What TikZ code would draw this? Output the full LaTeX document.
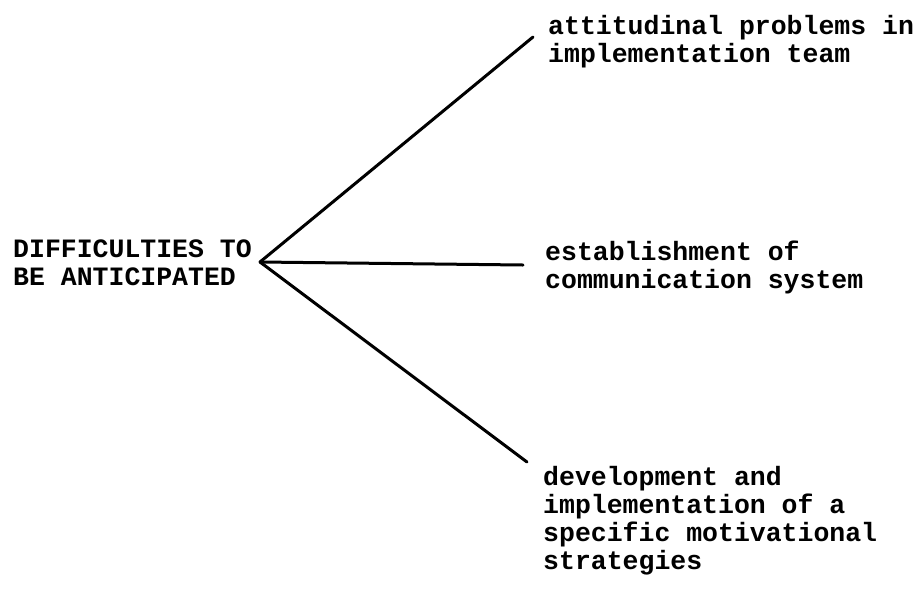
\documentclass[tikz,border=0pt]{standalone}
\usepackage{fontspec}
\setmonofont{Liberation Mono}
\tikzset{
  lbl/.style={font=\ttfamily\bfseries\fontsize{26.5}{27.8}\selectfont, align=left, inner sep=0pt, anchor=base west},
  branch/.style={line width=3pt, line cap=round}
}
\begin{document}
\begin{tikzpicture}[x=1pt,y=-1pt]
\useasboundingbox (0,0) rectangle (923,595);
\node[lbl] (root) at (13,285) {DIFFICULTIES TO\\BE ANTICIPATED};
\node[lbl] (t1) at (548,62) {attitudinal problems in\\implementation team};
\node[lbl] (t2) at (545,288) {establishment of\\communication system};
\node[lbl] (t3) at (543,569) {development and\\implementation of a\\specific motivational\\strategies};
\coordinate (b) at (260,262);
\coordinate (e1) at (533,37);
\coordinate (e2) at (523,265);
\coordinate (e3) at (527,462);
\draw[branch] (b) -- (e1);
\draw[branch] (b) -- (e2);
\draw[branch] (b) -- (e3);
\end{tikzpicture}
\end{document}
